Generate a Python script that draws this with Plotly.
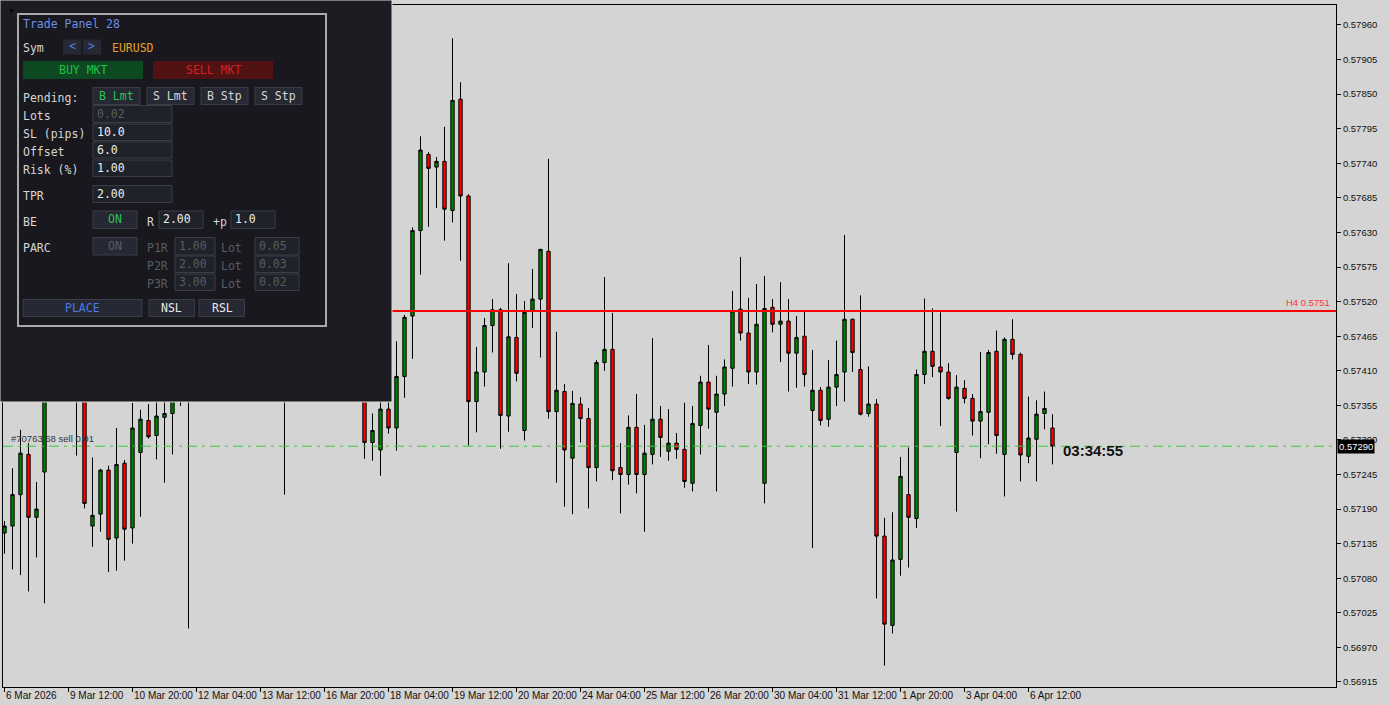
import plotly.graph_objects as go

# ---------------- data (EURUSD-like H4 bars) ----------------
OPEN = [0.57152,0.57163,0.57213,0.57277,0.57177,0.57249,0.57372,0.57395,0.57379,0.57411,
        0.57387,0.57163,0.57182,0.57252,0.57144,0.57263,0.57160,0.57280,0.57331,0.57307,
        0.57336,0.57342,0.57372,0.57395,0.57411,0.57443,0.57427,0.57475,0.57451,0.57491,
        0.57467,0.57523,0.57499,0.57459,0.57483,0.57435,0.57459,0.57427,0.57451,0.57411,
        0.57435,0.57403,0.57427,0.57395,0.57411,0.57383,0.57296,0.57284,0.57349,0.57319,
        0.57401,0.57497,0.57633,0.57754,0.57734,0.57743,0.57665,0.57842,0.57688,0.57361,
        0.57408,0.57482,0.57507,0.57338,0.57463,0.57315,0.57506,0.57524,0.57600,0.57345,
        0.57377,0.57271,0.57357,0.57334,0.57256,0.57423,0.57444,0.57256,0.57245,0.57320,
        0.57245,0.57277,0.57333,0.57282,0.57295,0.57285,0.57231,0.57323,0.57392,0.57344,
        0.57373,0.57414,0.57508,0.57470,0.57408,0.57231,0.57511,0.57484,0.57489,0.57438,
        0.57465,0.57347,0.57379,0.57333,0.57384,0.57408,0.57492,0.57412,0.57342,0.57357,
        0.57147,0.57005,0.57110,0.57213,0.57175,0.57404,0.57441,0.57416,0.57408,0.57280,
        0.57382,0.57366,0.57330,0.57344,0.57441,0.57277,0.57460,0.57436,0.57274,0.57301,
        0.57342,0.57319]
HIGH = [0.57171,0.57255,0.57316,0.57295,0.57233,0.57387,0.57427,0.57419,0.57435,0.57427,
        0.57403,0.57272,0.57254,0.57259,0.57319,0.57268,0.57359,0.57348,0.57357,0.57364,
        0.57364,0.57387,0.57411,0.57435,0.57459,0.57467,0.57491,0.57499,0.57515,0.57523,
        0.57539,0.57546,0.57515,0.57499,0.57491,0.57475,0.57475,0.57467,0.57459,0.57451,
        0.57443,0.57443,0.57435,0.57427,0.57424,0.57403,0.57342,0.57367,0.57367,0.57457,
        0.57499,0.57638,0.57783,0.57758,0.57750,0.57798,0.57939,0.57869,0.57691,0.57448,
        0.57494,0.57524,0.57510,0.57581,0.57532,0.57521,0.57572,0.57604,0.57747,0.57472,
        0.57389,0.57378,0.57368,0.57351,0.57427,0.57559,0.57502,0.57295,0.57339,0.57373,
        0.57324,0.57462,0.57354,0.57349,0.57311,0.57359,0.57354,0.57402,0.57451,0.57402,
        0.57428,0.57537,0.57591,0.57526,0.57548,0.57561,0.57524,0.57551,0.57524,0.57497,
        0.57505,0.57443,0.57384,0.57427,0.57458,0.57626,0.57493,0.57530,0.57417,0.57365,
        0.57176,0.57185,0.57273,0.57288,0.57412,0.57525,0.57509,0.57503,0.57422,0.57403,
        0.57395,0.57373,0.57440,0.57443,0.57474,0.57463,0.57492,0.57439,0.57369,0.57363,
        0.57377,0.57341]
LOW = [0.57119,0.57094,0.57085,0.57059,0.57113,0.57040,0.57367,0.57364,0.57367,0.57275,
       0.57191,0.57130,0.57154,0.57090,0.57092,0.57108,0.57135,0.57178,0.57302,0.57269,
       0.57232,0.57277,0.57354,0.57000,0.57387,0.57403,0.57411,0.57427,0.57435,0.57443,
       0.57451,0.57475,0.57427,0.57419,0.57411,0.57213,0.57395,0.57403,0.57379,0.57387,
       0.57372,0.57379,0.57367,0.57370,0.57365,0.57270,0.57267,0.57243,0.57310,0.57283,
       0.57367,0.57429,0.57563,0.57639,0.57669,0.57617,0.57646,0.57585,0.57291,0.57312,
       0.57385,0.57439,0.57286,0.57313,0.57393,0.57299,0.57478,0.57431,0.57334,0.57232,
       0.57194,0.57182,0.57296,0.57191,0.57234,0.57410,0.57236,0.57183,0.57229,0.57215,
       0.57154,0.57261,0.57273,0.57267,0.57270,0.57224,0.57218,0.57277,0.57318,0.57218,
       0.57354,0.57385,0.57458,0.57389,0.57388,0.57199,0.57471,0.57424,0.57377,0.57383,
       0.57385,0.57128,0.57323,0.57321,0.57354,0.57361,0.57408,0.57339,0.57337,0.57048,
       0.56941,0.56992,0.57084,0.57097,0.57160,0.57389,0.57400,0.57322,0.57364,0.57186,
       0.57358,0.57307,0.57271,0.57293,0.57278,0.57210,0.57428,0.57234,0.57263,0.57234,
       0.57317,0.57261]
CLOSE = [0.57163,0.57213,0.57279,0.57177,0.57190,0.57372,0.57395,0.57379,0.57411,0.57387,
         0.57199,0.57180,0.57252,0.57142,0.57261,0.57158,0.57319,0.57333,0.57305,0.57338,
         0.57342,0.57372,0.57395,0.57411,0.57443,0.57427,0.57475,0.57451,0.57491,0.57467,
         0.57523,0.57499,0.57459,0.57483,0.57435,0.57459,0.57427,0.57451,0.57411,0.57435,
         0.57403,0.57427,0.57395,0.57411,0.57383,0.57296,0.57315,0.57349,0.57319,0.57401,
         0.57495,0.57633,0.57761,0.57732,0.57743,0.57667,0.57840,0.57688,0.57361,0.57408,
         0.57482,0.57507,0.57339,0.57464,0.57406,0.57503,0.57524,0.57603,0.57345,0.57379,
         0.57284,0.57358,0.57334,0.57256,0.57423,0.57444,0.57251,0.57245,0.57320,0.57245,
         0.57279,0.57333,0.57304,0.57295,0.57285,0.57234,0.57326,0.57392,0.57349,0.57373,
         0.57416,0.57505,0.57470,0.57408,0.57484,0.57509,0.57484,0.57489,0.57438,0.57463,
         0.57404,0.57379,0.57331,0.57384,0.57404,0.57492,0.57439,0.57341,0.57357,0.57147,
         0.57007,0.57109,0.57242,0.57177,0.57404,0.57441,0.57417,0.57408,0.57366,0.57384,
         0.57366,0.57330,0.57345,0.57439,0.57307,0.57460,0.57436,0.57276,0.57303,0.57341,
         0.57350,0.57290]
BAR_INDEX = list(range(len(OPEN)))

TICK_IDX = [0, 8, 16, 24, 32, 40, 48, 56, 64, 72, 80, 88, 96, 104, 112, 120, 128]
TICK_LABELS = ["6 Mar 2026", "9 Mar 12:00", "10 Mar 20:00", "12 Mar 04:00", "13 Mar 12:00",
               "16 Mar 20:00", "18 Mar 04:00", "19 Mar 12:00", "20 Mar 20:00", "24 Mar 04:00",
               "25 Mar 12:00", "26 Mar 20:00", "30 Mar 04:00", "31 Mar 12:00", "1 Apr 20:00",
               "3 Apr 04:00", "6 Apr 12:00"]
PRICE_TICKS = [0.56915, 0.56970, 0.57025, 0.57080, 0.57135, 0.57190, 0.57245, 0.57300,
               0.57355, 0.57410, 0.57465, 0.57520, 0.57575, 0.57630, 0.57685, 0.57740,
               0.57795, 0.57850, 0.57905, 0.57960]
H4_LEVEL = 0.57505
H4_LABEL = "H4 0.5751"
BID = 0.57290
ORDER_LABEL = "#70763 68 sell 0.01"
COUNTDOWN = "03:34:55"

# ---------------- layout geometry ----------------
W, H = 1389, 705
ML, MR, MT, MB = 3, 53, 5, 18
PW, PH = W - ML - MR, H - MT - MB
BG = "#D4D4D4"
SANS = "Liberation Sans, Arial, sans-serif"
MONO = "DejaVu Sans Mono, monospace"


def px(x):
    return (x - ML) / PW


def py(y):
    return 1 - (y - MT) / PH


shapes = []
annotations = []


def rect(x0, y0, x1, y1, fill, line=None, lw=1):
    shapes.append(dict(type="rect", xref="paper", yref="paper",
                       x0=px(x0), x1=px(x1), y0=py(y1), y1=py(y0),
                       fillcolor=fill,
                       line=dict(color=line if line else fill, width=lw if line else 0),
                       layer="above"))


def text(x, y, s, color, size=11.5, anchor="left", family=MONO, bold=False):
    if bold:
        s = "<b>" + s + "</b>"
    annotations.append(dict(xref="paper", yref="paper", x=px(x), y=py(y), text=s,
                            showarrow=False, xanchor=anchor, yanchor="middle",
                            borderpad=0,
                            font=dict(family=family, size=size, color=color)))


fig = go.Figure()
fig.add_trace(go.Candlestick(
    x=BAR_INDEX, open=OPEN, high=HIGH, low=LOW, close=CLOSE,
    increasing=dict(line=dict(color="black", width=1), fillcolor="#008000"),
    decreasing=dict(line=dict(color="black", width=1), fillcolor="#FF0000"),
    whiskerwidth=0, showlegend=False, hoverinfo="skip"))

# price level lines
fig.add_shape(type="line", xref="paper", yref="y", x0=0, x1=1, y0=BID, y1=BID,
              line=dict(color="#3CC83C", width=1, dash="10px,5px,3px,5px"), layer="above")
fig.add_shape(type="line", xref="paper", yref="y", x0=0, x1=1, y0=H4_LEVEL, y1=H4_LEVEL,
              line=dict(color="#FF0000", width=2), layer="above")

# right strip
rect(1382, 0, 1389, 705, "#C4C4C4")
shapes.append(dict(type="line", xref="paper", yref="paper", x0=px(1382.5), x1=px(1382.5),
                   y0=py(705), y1=py(0), line=dict(color="#F0F0F0", width=1), layer="above"))

# ---------------- trade panel ----------------
LBL = "#D6D6D6"
DIM = "#5A5C64"
INP_FILL, INP_LINE = "#202229", "#3A3D48"
BTN_FILL = "#262934"

rect(0, 0, 392, 402, "#1C1C22", "#DADADA", 1)
rect(18, 14, 326, 326, "#18181E", "#A8A8A8", 2)
text(7, 11, "▼", "#050505", size=7, family=SANS)

text(22, 24, "Trade Panel 28", "#6E8EEA")
text(22, 48, "Sym", LBL)
rect(63, 39.5, 81, 54.5, BTN_FILL)
text(72, 46, "&lt;", "#4A7DE0", anchor="center")
rect(83, 39.5, 101, 54.5, BTN_FILL)
text(92, 46, "&gt;", "#4A7DE0", anchor="center")
text(111, 48, "EURUSD", "#E0A028")

rect(23, 61, 143, 79, "#0D4A22")
text(83, 70, "BUY MKT", "#22C244", anchor="center")
rect(153, 61, 273, 79, "#521214")
text(213, 70, "SELL MKT", "#D42222", anchor="center")

text(22, 98, "Pending:", LBL)
for (x0, x1, lab, col) in [(93, 140, "B Lmt", "#2FC052"), (147, 194, "S Lmt", LBL),
                           (201, 248, "B Stp", LBL), (255, 302, "S Stp", LBL)]:
    rect(x0, 87.5, x1, 104.5, BTN_FILL, INP_LINE, 1)
    text((x0 + x1) / 2, 96, lab, col, anchor="center")

rows = [("Lots", 116, 105.5, 122.5, "0.02", DIM), ("SL (pips)", 134, 124, 140.5, "10.0", "#EDEDED"),
        ("Offset", 152, 142, 158, "6.0", "#EDEDED"), ("Risk (%)", 170, 160, 176.5, "1.00", "#EDEDED"),
        ("TPR", 196, 185.5, 202.5, "2.00", "#EDEDED")]
for (lab, ty, y0, y1, val, vcol) in rows:
    text(22, ty, lab, LBL)
    rect(93, y0, 172, y1, INP_FILL, INP_LINE, 1)
    text(96, (y0 + y1) / 2, val, vcol)

text(22, 222, "BE", LBL)
rect(93, 211, 137, 228.5, BTN_FILL, INP_LINE, 1)
text(115, 219.5, "ON", "#2FC052", anchor="center")
text(146, 222, "R", LBL)
rect(159, 211, 203, 228.5, INP_FILL, INP_LINE, 1)
text(162, 219.5, "2.00", "#EDEDED")
text(212, 222, "+p", LBL)
rect(231, 211, 275, 228.5, INP_FILL, INP_LINE, 1)
text(234, 219.5, "1.0", "#EDEDED")

text(22, 248, "PARC", LBL)
rect(93, 237.5, 137, 255, BTN_FILL, INP_LINE, 1)
text(115, 246, "ON", DIM, anchor="center")
parc = [("P1R", 248, 237.5, 255, "1.00", "0.05"), ("P2R", 266, 256, 272.5, "2.00", "0.03"),
        ("P3R", 284, 274, 290.5, "3.00", "0.02")]
for (lab, ty, y0, y1, v1, v2) in parc:
    text(146, ty, lab, DIM)
    rect(175, y0, 215, y1, INP_FILL, INP_LINE, 1)
    text(178, (y0 + y1) / 2, v1, DIM)
    text(220, ty, "Lot", DIM)
    rect(255, y0, 299, y1, INP_FILL, INP_LINE, 1)
    text(258, (y0 + y1) / 2, v2, DIM)

rect(23, 299.5, 142, 316.5, BTN_FILL, INP_LINE, 1)
text(82.5, 308, "PLACE", "#4A78E8", anchor="center")
rect(149, 299.5, 194.5, 316.5, BTN_FILL, INP_LINE, 1)
text(172, 308, "NSL", "#E8E8E8", anchor="center")
rect(199, 299.5, 244.5, 316.5, BTN_FILL, INP_LINE, 1)
text(222, 308, "RSL", "#E8E8E8", anchor="center")

# ---------------- chart texts ----------------
for idx, lab in zip(TICK_IDX, TICK_LABELS):
    annotations.append(dict(xref="x", yref="paper", x=idx, y=0, text=lab, showarrow=False,
                            xanchor="left", yanchor="top", yshift=-1, xshift=-1,
                            font=dict(family=SANS, size=10, color="#111111")))

annotations.append(dict(xref="paper", yref="y", x=1, y=H4_LEVEL, text=H4_LABEL, showarrow=False,
                        xanchor="right", yanchor="bottom", xshift=-4, yshift=1,
                        font=dict(family=SANS, size=9.5, color="#FF3333")))
annotations.append(dict(xref="paper", yref="y", x=px(9), y=BID, text=ORDER_LABEL, showarrow=False,
                        xanchor="left", yanchor="bottom", yshift=0,
                        font=dict(family=SANS, size=9.5, color="#2E3646")))
annotations.append(dict(xref="x", yref="y", x=BAR_INDEX[-1] + 1.1, y=BID, text="<b>" + COUNTDOWN + "</b>",
                        showarrow=False, xanchor="left", yanchor="middle", yshift=-4,
                        font=dict(family=SANS, size=15, color="#111111")))
annotations.append(dict(xref="paper", yref="y", x=1, y=BID, text=f"{BID:.5f}", showarrow=False,
                        xanchor="left", yanchor="middle", xshift=1, bgcolor="#000000", borderpad=1,
                        font=dict(family=SANS, size=9.5, color="#FFFFFF")))

fig.update_layout(
    width=W, height=H, margin=dict(l=ML, r=MR, t=MT, b=MB, pad=0),
    paper_bgcolor=BG, plot_bgcolor=BG, boxgap=0.4,
    shapes=shapes, annotations=annotations, showlegend=False, hovermode=False,
    xaxis=dict(range=[-0.1875, 166.4375], tickvals=TICK_IDX, ticks="outside", ticklen=4,
               tickcolor="#000000", showticklabels=False, showgrid=False, zeroline=False,
               showline=True, linecolor="#000000", linewidth=1, mirror=True,
               rangeslider=dict(visible=False), fixedrange=True),
    yaxis=dict(range=[0.569070, 0.579918], side="right", tickvals=PRICE_TICKS,
               ticktext=[f"{v:.5f}" for v in PRICE_TICKS], ticks="outside", ticklen=4,
               tickcolor="#000000", tickfont=dict(family=SANS, size=9.5, color="#111111"),
               showgrid=False, zeroline=False, showline=True, linecolor="#000000",
               linewidth=1, mirror=True, fixedrange=True),
)

fig.write_html("out.html", config={"displayModeBar": False},
               post_script="document.body.style.margin='0';document.body.style.padding='0';"
                           "document.body.style.overflow='hidden';")
